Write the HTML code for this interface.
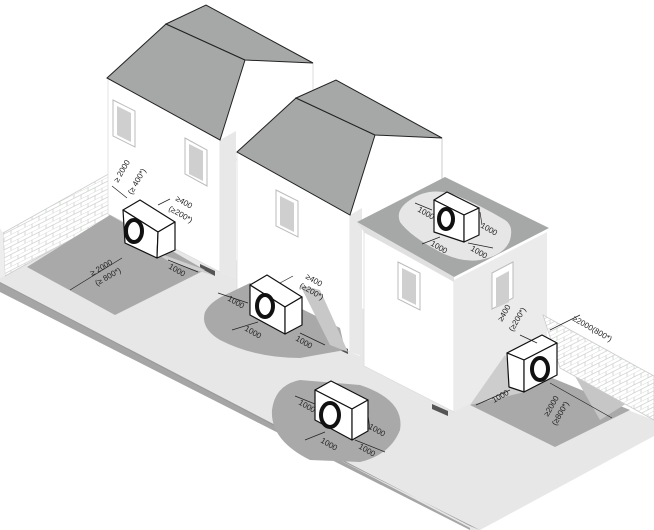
<!DOCTYPE html><html><head><meta charset="utf-8"><style>html,body{margin:0;padding:0;background:#fff}svg{display:block}text{font-family:"Liberation Sans",sans-serif;font-size:8px;fill:#222}</style></head><body>
<svg width="654" height="530" viewBox="0 0 654 530" xmlns="http://www.w3.org/2000/svg">
<defs>
<pattern id="brick" width="14" height="8" patternUnits="userSpaceOnUse" patternTransform="skewY(-27)">
<rect width="14" height="8" fill="#fff"/><path d="M0 0H14M0 4H14M4 0V4M11 4V8" stroke="#c8cec8" stroke-width="0.7" fill="none"/></pattern>
<clipPath id="roofclip"><polygon points="357,222 445,177 549,228 454,277"/></clipPath>
</defs>
<!-- ground slab -->
<polygon points="0,272 110,212 654,420 654,436 480,530 470,530 0,283" fill="#e7e7e7"/>
<polygon points="0,282 470,526 480,530 0,290" fill="#9a9a9a"/>
<polygon points="0,283 470,528 470,530 0,292" fill="#a5a5a5"/>
<!-- left brick wall -->
<polygon points="3,233 112,172 112,217 5,276" fill="url(#brick)" stroke="#ccc" stroke-width="0.8"/>
<polygon points="0,228 3,233 5,276 0,278" fill="#eee"/>
<!-- house 1 -->
<polygon points="108,78 220,140 220,272 108,214" fill="#fff" stroke="#ddd" stroke-width="0.8"/>
<polygon points="220,140 245,60 313,63 313,120 236,160 236,278 220,272" fill="#fff"/>
<polygon points="220,140 236,131 236,278 220,272" fill="#e8e8e8"/>
<line x1="236" y1="160" x2="313" y2="120" stroke="#ddd"/>
<line x1="313" y1="63" x2="313" y2="120" stroke="#ddd"/>
<polygon points="107,78 166,24 245,60 220,140" fill="#a6a8a8" stroke="#222" stroke-width="1"/>
<polygon points="166,24 206,5 313,63 245,60" fill="#a6a8a8" stroke="#222" stroke-width="1"/>
<!-- house 2 -->
<polygon points="237,152 350,215 350,352 237,292" fill="#fff" stroke="#ddd" stroke-width="0.8"/>
<polygon points="350,215 375,135 442,138 442,175 360,222 360,356 350,352" fill="#fff"/>
<polygon points="350,215 362,208 362,356 350,352" fill="#e8e8e8"/>
<line x1="442" y1="138" x2="442" y2="180" stroke="#ccc"/>
<polygon points="237,152 296,98 375,135 350,215" fill="#a6a8a8" stroke="#222" stroke-width="1"/>
<polygon points="296,98 336,80 442,138 375,135" fill="#a6a8a8" stroke="#222" stroke-width="1"/>
<!-- house 3 box -->
<polygon points="364,232 454,280 454,412 364,366" fill="#fff" stroke="#ddd" stroke-width="0.8"/>
<polygon points="454,280 547,232 547,362 454,412" fill="#ebebeb"/>
<polygon points="357,222 445,177 549,228 454,277" fill="#a6a8a8"/>
<polygon points="357,222 454,277 454,282 364,232" fill="#e0e0e0"/>
<path d="M410,200 Q395,210 400,222 Q410,236 440,252 Q462,263 480,260 Q505,255 510,240 Q514,226 505,220 Q480,205 455,195 Q430,186 410,200Z" fill="#e6e6e6" clip-path="url(#roofclip)"/>
<!-- windows -->
<g fill="#fff" stroke="#bbb" stroke-width="1">
<polygon points="113,100 135,111 135,147 113,136"/><polygon points="185,138 207,150 207,186 185,174"/>
<polygon points="276,190 298,201 298,237 276,226"/><polygon points="398,262 420,273 420,310 398,299"/>
<polygon points="492,273 513,262 513,298 492,309"/>
</g>
<g fill="#cfcfcf">
<polygon points="117,106 131,113 131,142 117,135"/><polygon points="189,144 203,151 203,181 189,174"/>
<polygon points="280,196 294,203 294,232 280,225"/><polygon points="402,268 416,275 416,305 402,298"/>
<polygon points="496,278 509,271 509,302 496,308"/>
</g>
<!-- vents -->
<g fill="#555"><polygon points="200,264 215,271 215,276 200,269"/><polygon points="333,342 348,349 348,354 333,347"/><polygon points="432,404 448,411 448,416 432,409"/></g>
<!-- shaded zones -->
<polygon points="27,267 110,215 205,270 115,315" fill="#a9a9a9"/>
<polygon points="150,250 200,268 215,276 170,262" fill="#cfcfcf"/>
<path d="M225,295 L250,283 L340,328 L345,350 L300,358 Q255,358 220,340 Q200,328 205,312 Q210,302 225,295Z" fill="#a9a9a9"/>
<polygon points="300,285 320,290 348,352 330,345" fill="#c8c8c8"/>
<path d="M300,380 L360,385 Q405,400 400,430 Q390,455 360,462 L310,460 Q270,440 272,410 Q275,385 300,380Z" fill="#a9a9a9"/>
<polygon points="470,405 545,375 630,410 555,447" fill="#a9a9a9"/>
<polygon points="470,405 505,355 525,392" fill="#cdcdcd"/>
<polygon points="560,350 640,395 600,420" fill="#c6c6c6"/>
<!-- right brick wall -->
<polygon points="543,315 654,376 654,420 560,368" fill="url(#brick)" stroke="#ccc" stroke-width="0.8"/>
<!-- units -->
<g stroke="#111" stroke-width="1.2" fill="#fff" stroke-linejoin="round">
<polygon points="123,210 140,200 175,222 158,232"/><polygon points="123,210 158,232 157,258 125,243"/><polygon points="158,232 175,222 175,250 157,258"/>
<polygon points="250,285 267,275 302,297 285,307"/><polygon points="250,285 285,307 285,334 250,315"/><polygon points="285,307 302,297 302,325 285,334"/>
<polygon points="315,390 331,381 368,400 352,409"/><polygon points="315,390 352,409 352,440 315,420"/><polygon points="352,409 368,400 368,431 352,440"/>
<polygon points="434,200 447,192 479,208 464,215"/><polygon points="434,200 464,215 464,242 434,232"/><polygon points="464,215 479,208 479,235 464,242"/>
<polygon points="507,353 542,335 557,343 524,360"/><polygon points="507,353 524,360 524,392 509,387"/><polygon points="524,360 557,343 557,375 524,392"/>
</g>
<g fill="none" stroke="#111">
<ellipse cx="134" cy="231" rx="8" ry="11" stroke-width="4"/>
<ellipse cx="265" cy="306" rx="8" ry="11" stroke-width="4"/>
<ellipse cx="330" cy="415" rx="9" ry="12" stroke-width="4"/>
<ellipse cx="446" cy="219" rx="7" ry="10" stroke-width="4"/>
<ellipse cx="540" cy="369" rx="8" ry="11" stroke-width="4"/>
</g>
<!-- dimension lines -->
<g stroke="#222" stroke-width="0.7" fill="none">
<line x1="112" y1="186" x2="127" y2="198"/><line x1="158" y1="205" x2="170" y2="199"/>
<line x1="70" y1="290" x2="122" y2="258"/><line x1="168" y1="260" x2="198" y2="272"/>
<line x1="280" y1="283" x2="293" y2="276"/><line x1="218" y1="293" x2="248" y2="303"/><line x1="232" y1="330" x2="258" y2="322"/><line x1="300" y1="333" x2="325" y2="345"/>
<line x1="295" y1="396" x2="315" y2="404"/><line x1="305" y1="440" x2="325" y2="432"/><line x1="368" y1="415" x2="370" y2="430"/><line x1="355" y1="440" x2="385" y2="452"/>
<line x1="415" y1="203" x2="432" y2="210"/><line x1="422" y1="244" x2="440" y2="237"/><line x1="480" y1="212" x2="482" y2="225"/><line x1="468" y1="243" x2="493" y2="248"/>
<line x1="520" y1="335" x2="537" y2="343"/><line x1="550" y1="330" x2="580" y2="315"/><line x1="476" y1="405" x2="510" y2="390"/><line x1="550" y1="383" x2="612" y2="418"/>
</g>
<g>
<text transform="translate(118,183) rotate(-60)">≥ 2000</text>
<text transform="translate(132,195) rotate(-60)">(≥ 400*)</text>
<text transform="translate(175,200) rotate(30)">≥400</text>
<text transform="translate(168,210) rotate(30)">(≥200*)</text>
<text transform="translate(92,276) rotate(-30)">≥ 2000</text>
<text transform="translate(97,286) rotate(-30)">(≥ 800*)</text>
<text transform="translate(168,268) rotate(30)">1000</text>
<text transform="translate(305,278) rotate(30)">≥400</text>
<text transform="translate(299,287) rotate(30)">(≥200*)</text>
<text transform="translate(227,300) rotate(30)">1000</text>
<text transform="translate(244,330) rotate(30)">1000</text>
<text transform="translate(295,340) rotate(30)">1000</text>
<text transform="translate(298,404) rotate(30)">1000</text>
<text transform="translate(320,442) rotate(30)">1000</text>
<text transform="translate(368,428) rotate(30)">1000</text>
<text transform="translate(358,448) rotate(30)">1000</text>
<text transform="translate(417,211) rotate(30)">1000</text>
<text transform="translate(430,245) rotate(30)">1000</text>
<text transform="translate(480,227) rotate(30)">1000</text>
<text transform="translate(470,250) rotate(30)">1000</text>
<text transform="translate(502,322) rotate(-60)">≥400</text>
<text transform="translate(513,332) rotate(-60)">(≥200*)</text>
<text transform="translate(572,320) rotate(30)">≥2000(800*)</text>
<text transform="translate(494,403) rotate(-30)">1000</text>
<text transform="translate(548,417) rotate(-60)">≥2000</text>
<text transform="translate(556,426) rotate(-60)">(≥800*)</text>
</g>
</svg>
</body></html>
